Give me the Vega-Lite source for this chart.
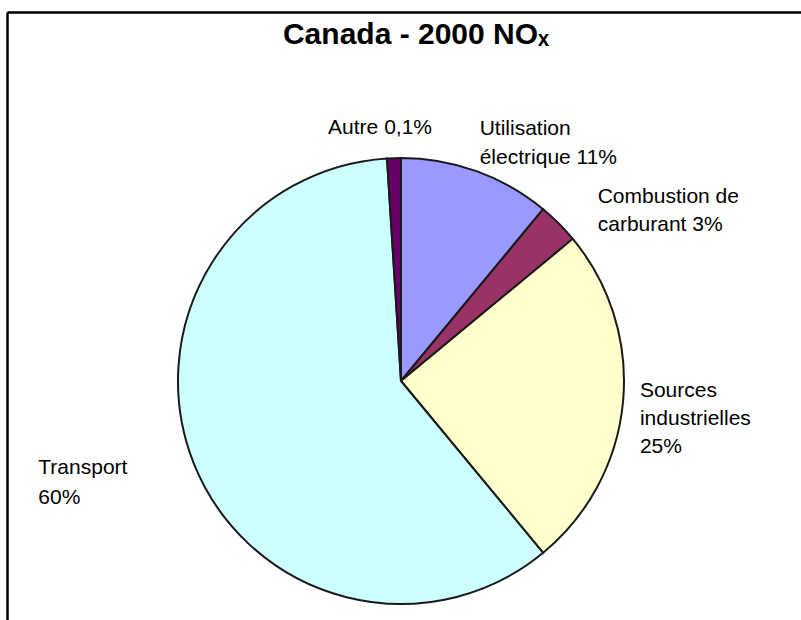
{
  "$schema": "https://vega.github.io/schema/vega-lite/v6.json",
  "width": 794,
  "height": 608,
  "autosize": {"type": "none"},
  "padding": {"left": 7, "top": 12, "right": 0, "bottom": 0},
  "background": "white",
  "config": {"view": {"stroke": null}, "font": "Liberation Sans"},
  "title": {
    "text": "Canada - 2000 NOₓ",
    "font": "Liberation Sans",
    "fontSize": 30,
    "fontWeight": "bold",
    "color": "black",
    "anchor": "middle",
    "frame": "group",
    "offset": 0,
    "dx": 12,
    "dy": 38
  },
  "data": {
    "values": [
      {"cat": "Utilisation électrique", "pct": 11, "rang": 1, "label": "Utilisation\nélectrique 11%"},
      {"cat": "Combustion de carburant", "pct": 3, "rang": 2, "label": "Combustion de\ncarburant 3%"},
      {"cat": "Sources industrielles", "pct": 25, "rang": 3, "label": "Sources\nindustrielles\n25%"},
      {"cat": "Transport", "pct": 60, "rang": 4, "label": "Transport\n60%"},
      {"cat": "Autre", "pct": 1, "rang": 5, "label": "Autre 0,1%"}
    ]
  },
  "encoding": {
    "x": {
      "datum": 0,
      "type": "quantitative",
      "scale": {"domain": [-394, 400], "nice": false, "zero": false},
      "axis": {"orient": "top", "domain": true, "domainColor": "black", "domainWidth": 2.5, "ticks": false, "labels": false, "grid": false, "title": null}
    },
    "y": {
      "datum": 0,
      "type": "quantitative",
      "scale": {"domain": [-239, 369], "nice": false, "zero": false},
      "axis": {"orient": "left", "domain": true, "domainColor": "black", "domainWidth": 2.5, "ticks": false, "labels": false, "grid": false, "title": null}
    },
    "theta": {"field": "pct", "type": "quantitative", "stack": true},
    "order": {"field": "rang", "type": "quantitative"}
  },
  "layer": [
    {
      "mark": {"type": "arc", "outerRadius": 223, "stroke": "#1a1a1a", "strokeWidth": 2},
      "encoding": {
        "color": {
          "field": "cat",
          "type": "nominal",
          "scale": {
            "domain": ["Utilisation électrique", "Combustion de carburant", "Sources industrielles", "Transport", "Autre"],
            "range": ["#9999FF", "#993366", "#FFFFCC", "#CCFFFF", "#660066"]
          },
          "legend": null
        }
      }
    },
    {
      "mark": {"type": "text", "radius": 253, "align": "center", "baseline": "middle", "dx": -13, "fontSize": 21, "lineHeight": 28, "lineBreak": "\n", "color": "black"},
      "encoding": {"text": {"condition": {"test": "datum.cat === 'Autre'", "field": "label"}, "value": ""}}
    },
    {
      "mark": {"type": "text", "radius": 250, "align": "left", "baseline": "middle", "dx": -6, "dy": -17, "fontSize": 21, "lineHeight": 29, "lineBreak": "\n", "color": "black"},
      "encoding": {"text": {"condition": {"test": "datum.cat === 'Utilisation électrique'", "field": "label"}, "value": ""}}
    },
    {
      "mark": {"type": "text", "radius": 240, "align": "left", "baseline": "middle", "dx": 27, "dy": -14, "fontSize": 21, "lineHeight": 28, "lineBreak": "\n", "color": "black"},
      "encoding": {"text": {"condition": {"test": "datum.cat === 'Combustion de carburant'", "field": "label"}, "value": ""}}
    },
    {
      "mark": {"type": "text", "radius": 240, "align": "left", "baseline": "middle", "dx": 0, "dy": -13, "fontSize": 21, "lineHeight": 28, "lineBreak": "\n", "color": "black"},
      "encoding": {"text": {"condition": {"test": "datum.cat === 'Sources industrielles'", "field": "label"}, "value": ""}}
    },
    {
      "mark": {"type": "text", "radius": 275, "align": "left", "baseline": "middle", "dx": -107, "dy": -14, "fontSize": 21, "lineHeight": 30, "lineBreak": "\n", "color": "black"},
      "encoding": {"text": {"condition": {"test": "datum.cat === 'Transport'", "field": "label"}, "value": ""}}
    }
  ]
}
